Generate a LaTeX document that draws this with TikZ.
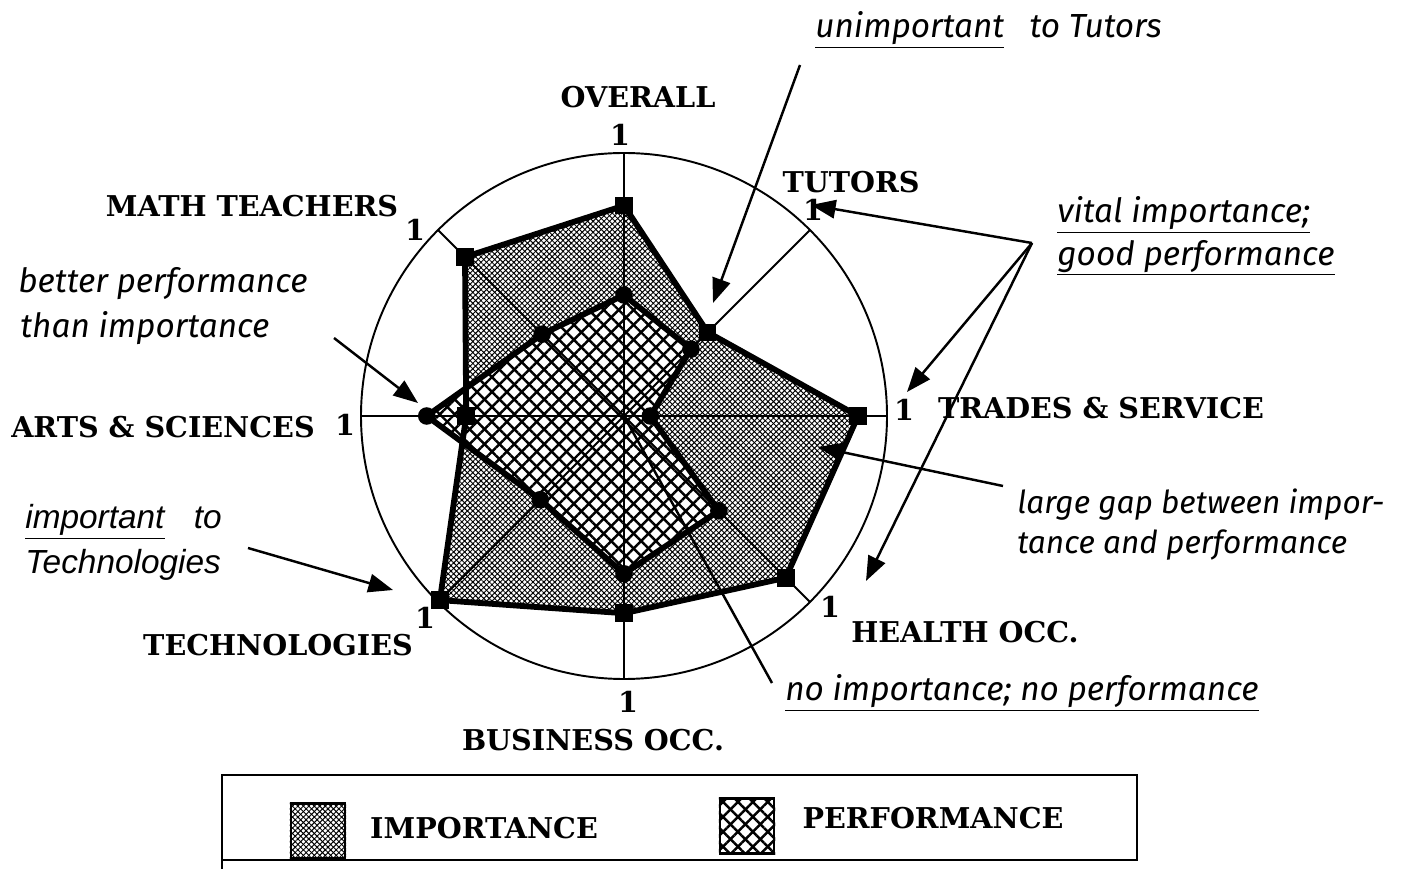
\documentclass[tikz,border=0pt]{standalone}
\usepackage{fontspec}
\usetikzlibrary{patterns.meta,arrows.meta,calc}
\newfontfamily\labfont{DejaVu Serif}
\newfontfamily\annfont{Fira Sans}
\newfontfamily\annfontb{Liberation Sans}
\tikzset{
  lab/.style={font=\labfont\bfseries\fontsize{16.3}{19}\selectfont, inner sep=0pt},
  ann/.style={font=\annfont\itshape\fontsize{19}{23}\selectfont, inner sep=0pt, anchor=west},
  anns/.style={font=\annfont\itshape\fontsize{18}{22}\selectfont, inner sep=0pt, anchor=west},
  annb/.style={font=\annfontb\itshape\fontsize{19}{23}\selectfont, inner sep=0pt, anchor=west},
  arr/.style={line width=1.4pt, -{Triangle[length=14pt,width=10.5pt]}},
  axis/.style={line width=1.1pt},
  outline/.style={line width=3.3pt, line join=round},
  impfine/.style={pattern={Lines[angle=45,distance=2.2pt,line width=0.55pt]}},
  impfine2/.style={pattern={Lines[angle=-45,distance=2.2pt,line width=0.55pt]}},
  perfx/.style={pattern={Lines[angle=45,distance=6pt,line width=1.4pt]}},
  perfx2/.style={pattern={Lines[angle=-45,distance=6pt,line width=1.4pt]}},
  sq/.style={rectangle, fill=black, minimum size=10pt, inner sep=0pt},
  dot/.style={circle, fill=black, minimum size=10pt, inner sep=0pt},
}
\begin{document}
\begin{tikzpicture}[x=0.02cm,y=0.02cm]
\useasboundingbox (0,0) rectangle (1412,869);
\begin{scope}[shift={(624,453)}]
  \coordinate (C) at (0,0);
  % importance points
  \coordinate (I1) at (90:{0.80*263});
  \coordinate (I2) at (45:{0.45*263});
  \coordinate (I3) at (0:{0.89*263});
  \coordinate (I4) at (-45:{0.87*263});
  \coordinate (I5) at (-90:{0.75*263});
  \coordinate (I6) at (-135:{0.99*263});
  \coordinate (I7) at (180:{0.60*263});
  \coordinate (I8) at (135:{0.855*263});
  % performance points
  \coordinate (P1) at (90:{0.46*263});
  \coordinate (P2) at (45:{0.36*263});
  \coordinate (P3) at (0:{0.10*263});
  \coordinate (P4) at (-45:{0.51*263});
  \coordinate (P5) at (-90:{0.60*263});
  \coordinate (P6) at (-135:{0.45*263});
  \coordinate (P7) at (180:{0.75*263});
  \coordinate (P8) at (135:{0.44*263});
  % axis ends
  \foreach \a/\n in {90/1,45/2,0/3,-45/4,-90/5,-135/6,180/7,135/8}
    \coordinate (E\n) at (\a:263);
  % fills
  \path[impfine] (I1)--(I2)--(I3)--(I4)--(I5)--(I6)--(I7)--(I8)--cycle;
  \path[impfine2] (I1)--(I2)--(I3)--(I4)--(I5)--(I6)--(I7)--(I8)--cycle;
  \path[fill=white] (P1)--(P2)--(P3)--(P4)--(P5)--(P6)--(P7)--(P8)--cycle;
  \path[perfx] (P1)--(P2)--(P3)--(P4)--(P5)--(P6)--(P7)--(P8)--cycle;
  \path[perfx2] (P1)--(P2)--(P3)--(P4)--(P5)--(P6)--(P7)--(P8)--cycle;
  % axes and circle
  \foreach \n in {1,...,8} \draw[axis] (C) -- (E\n);
  \draw[line width=1.1pt] (C) circle (263);
  % outlines
  \draw[outline] (I1)--(I2)--(I3)--(I4)--(I5)--(I6)--(I7)--(I8)--cycle;
  \draw[outline] (P1)--(P2)--(P3)--(P4)--(P5)--(P6)--(P7)--(P8)--cycle;
  \foreach \n in {1,...,8} {
    \node[sq] (mI\n) at (I\n) {};
    \node[dot] (mP\n) at (P\n) {};
  }
\end{scope}
% axis labels
\node[lab] (lOverall) at (638,772) {OVERALL};
\node[lab] (o1) at (620,734) {1};
\node[lab] (lTutors) at (851,687) {TUTORS};
\node[lab] (t1) at (813,659) {1};
\node[lab] (lMath) at (252,663) {MATH TEACHERS};
\node[lab] (m1) at (415,639) {1};
\node[lab] (lArts) at (163,442) {ARTS \& SCIENCES};
\node[lab] (a1) at (345,444) {1};
\node[lab] (lTrades) at (1101,461) {TRADES \& SERVICE};
\node[lab] (tr1) at (904,459) {1};
\node[lab] (lHealth) at (965,237) {HEALTH OCC.};
\node[lab] (h1) at (830,262) {1};
\node[lab] (lBus) at (593,129) {BUSINESS OCC.};
\node[lab] (b1) at (628,167) {1};
\node[lab] (lTech) at (278,224) {TECHNOLOGIES};
\node[lab] (te1) at (425,251) {1};
% annotations
\node[ann] (nUnimp) at (815,839) {\underline{unimportant}\hspace{0.5em} to Tutors};
\coordinate (sUnimp) at (800,804);
\coordinate (tUnimp) at (713,566);
\draw[arr] (sUnimp) -- (tUnimp);

\node[ann] (nVit1) at (1057,654) {\underline{vital importance;}};
\node[ann] (nVit2) at (1057,611) {\underline{good performance}};
\coordinate (hub) at (1032,626);
\coordinate (tV1) at (811,664);
\coordinate (tV2) at (907,477);
\coordinate (tV3) at (866,288);
\draw[arr] (hub) -- (tV1);
\draw[arr] (hub) -- (tV2);
\draw[arr] (hub) -- (tV3);

\node[ann] (nBet1) at (18,585) {better performance};
\node[ann] (nBet2) at (20,541) {than importance};
\coordinate (sBet) at (334,531);
\coordinate (tBet) at (418,466);
\draw[arr] (sBet) -- (tBet);

\node[anns] (nGap1) at (1017,364) {large gap between impor-};
\node[anns] (nGap2) at (1017,324) {tance and performance};
\coordinate (sGap) at (1003,383);
\coordinate (tGap) at (818,422);
\draw[arr] (sGap) -- (tGap);

\node[annb] (nImp1) at (25,347) {\underline{important}\hspace{0.6em} to};
\node[annb] (nImp2) at (25,304) {Technologies};
\coordinate (sImp) at (248,321);
\coordinate (tImp) at (393,279);
\draw[arr] (sImp) -- (tImp);

\node[ann] (nNo) at (785,176) {\underline{no importance; no performance}};
\coordinate (sNo) at (772,186);
\draw[line width=1.4pt] (sNo) -- (C);

% legend
\draw[line width=1.2pt] (222,94) rectangle (1137,9);
\draw[line width=1.2pt] (222,9) -- (222,0);
\node[draw, line width=1.2pt, minimum width=54*0.02cm, minimum height=55*0.02cm, inner sep=0pt] (swI) at (318,38) {};
\path[impfine] (swI.south west) rectangle (swI.north east);
\path[impfine2] (swI.south west) rectangle (swI.north east);
\node[draw, line width=1.2pt, minimum width=54*0.02cm, minimum height=55*0.02cm, inner sep=0pt] (swP) at (747,43) {};
\path[perfx] (swP.south west) rectangle (swP.north east);
\path[perfx2] (swP.south west) rectangle (swP.north east);
\node[lab] (legI) at (484,41) {IMPORTANCE};
\node[lab] (legP) at (933,51) {PERFORMANCE};
\end{tikzpicture}
\end{document}
